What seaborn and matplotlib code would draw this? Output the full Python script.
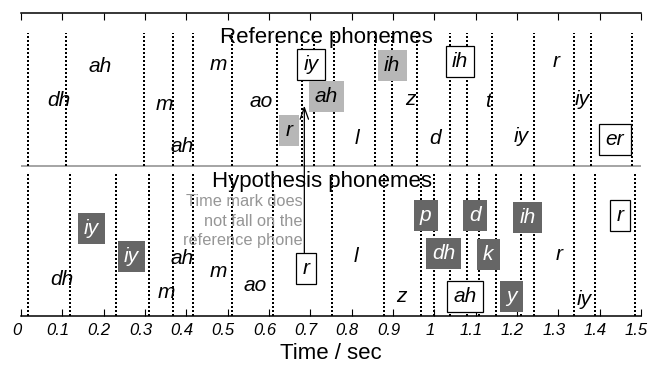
import matplotlib
matplotlib.use("Agg")
import matplotlib.pyplot as plt
import matplotlib.transforms as mtransforms
import pandas as pd
import seaborn as sns

# ---- data -------------------------------------------------------------
ref_bounds = [0.018, 0.109, 0.298, 0.368, 0.417, 0.510, 0.619, 0.679, 0.710,
              0.757, 0.857, 0.898, 0.959, 1.038, 1.078, 1.140, 1.240, 1.339,
              1.378, 1.479]
hyp_bounds = [0.018, 0.119, 0.230, 0.309, 0.368, 0.417, 0.510, 0.610, 0.752,
              0.878, 0.967, 1.000, 1.038, 1.078, 1.107, 1.149, 1.209, 1.240,
              1.339, 1.389, 1.486]

ref_phones = ["dh", "ah", "m", "ah", "m", "ao", "r", "iy", "ah", "l", "ih",
              "z", "d", "ih", "t", "iy", "r", "iy", "er"]
ref_times = [0.092, 0.191, 0.346, 0.391, 0.477, 0.581, 0.648, 0.702, 0.739,
             0.812, 0.898, 0.943, 1.002, 1.062, 1.130, 1.211, 1.294, 1.357,
             1.437]
ref_levels = [215, 249, 211, 169, 251, 214, 185, 251, 219, 177, 250, 216, 177,
              254, 214, 179, 254, 216, 176]
ref_marks = ["", "", "", "", "", "", "shade", "frame", "shade", "", "shade",
             "", "", "frame", "", "", "", "", "frame"]

hyp_phones = ["dh", "iy", "iy", "m", "ah", "m", "ao", "r", "l", "z", "p", "dh",
              "ah", "d", "k", "y", "ih", "r", "iy", "r"]
hyp_times = [0.099, 0.171, 0.267, 0.352, 0.390, 0.477, 0.566, 0.690, 0.810,
             0.921, 0.979, 1.022, 1.074, 1.098, 1.130, 1.186, 1.225, 1.302,
             1.362, 1.449]
hyp_levels = [36, 87, 59, 23, 57, 44, 30, 47, 59, 19, 100, 62, 19, 100, 61,
              19, 98, 61, 16, 100]
hyp_marks = ["", "dark", "dark", "", "", "", "", "frame", "", "", "dark",
             "dark", "frame", "dark", "dark", "dark", "dark", "", "", "frame"]

tick_values = [0, 0.1, 0.2, 0.3, 0.4, 0.5, 0.6, 0.7, 0.8, 0.9, 1.0, 1.1, 1.2,
               1.3, 1.4, 1.5]
tick_labels = ["0", "0.1", "0.2", "0.3", "0.4", "0.5", "0.6", "0.7", "0.8",
               "0.9", "1", "1.1", "1.2", "1.3", "1.4", "1.5"]

note_lines = ["Time mark does", "not fall on the", "reference phone"]

# ---- style --------------------------------------------------------------
sns.set_theme(style="ticks")
plt.rcParams["font.family"] = ["Liberation Sans", "DejaVu Sans"]

fig = plt.figure(figsize=(6.51, 3.65), dpi=100)
ax = fig.add_axes([21 / 651, 49.3 / 365, 620 / 651, 302.7 / 365])
ax.set_xlim(0, 1.5)
ax.set_ylim(0, 302.7)

# boundary marks as long-form data
rows = []
for k, b in enumerate(ref_bounds):
    rows += [dict(t=b, y=150, uid=f"r{k}"), dict(t=b, y=283, uid=f"r{k}")]
for k, b in enumerate(hyp_bounds):
    rows += [dict(t=b, y=0, uid=f"h{k}"), dict(t=b, y=144, uid=f"h{k}")]
bdf = pd.DataFrame(rows)
sns.lineplot(data=bdf, x="t", y="y", units="uid", estimator=None, sort=False,
             color="black", lw=1.45, linestyle=(0, (0.75, 1.35)), ax=ax,
             legend=False, antialiased=False)

# separator
ax.axhline(149.3, color="#959595", lw=1.2, zorder=1)

# titles
ax.text(0.739, 273, "Reference phonemes", ha="center", va="baseline",
        fontsize=16, color="black", zorder=3)
ax.text(0.729, 128.4, "Hypothesis phonemes", ha="center", va="baseline",
        fontsize=16, color="black", zorder=3)

styles = {
    "": dict(color="black", bbox=None),
    "shade": dict(color="black",
                  bbox=dict(boxstyle="square,pad=0.3", fc="#b7b7b7",
                            ec="none")),
    "dark": dict(color="white",
                 bbox=dict(boxstyle="square,pad=0.3", fc="#666666",
                           ec="none")),
    "frame": dict(color="black",
                  bbox=dict(boxstyle="square,pad=0.3", fc="white",
                            ec="black", lw=0.9)),
}

def put(phones, times, levels, marks):
    for s, t, y, m in zip(phones, times, levels, marks):
        st = styles[m]
        ax.text(t, y, s, ha="center", va="center", fontsize=15,
                style="italic", color=st["color"], bbox=st["bbox"], zorder=4)

put(ref_phones, ref_times, ref_levels, ref_marks)
put(hyp_phones, hyp_times, hyp_levels, hyp_marks)

# annotation
for line, y in zip(note_lines, [109.2, 89.7, 70.2]):
    ax.text(0.681, y, line, ha="right", va="baseline", fontsize=11.8,
            color="#969696", zorder=3)
ax.annotate("", xy=(0.6855, 210), xytext=(0.6855, 63),
            arrowprops=dict(arrowstyle="->,head_length=0.7,head_width=0.25",
                            color="black", lw=0.9, shrinkA=0, shrinkB=0,
                            mutation_scale=12), zorder=5)

# axes styling
for side in ["left", "right"]:
    ax.spines[side].set_visible(False)
for side in ["top", "bottom"]:
    ax.spines[side].set_visible(True)
    ax.spines[side].set_linewidth(1.1)
    ax.spines[side].set_color("black")
ax.set_yticks([])
ax.set_xticks(tick_values)
ax.set_xticklabels(tick_labels, fontstyle="italic", fontsize=12)
ax.tick_params(axis="x", top=True, bottom=True, direction="in", length=4.8,
               width=0.8, color="black", pad=5, labelcolor="black")
shift = mtransforms.ScaledTranslation(-0.045, 0, fig.dpi_scale_trans)
for lab in ax.get_xticklabels():
    lab.set_transform(lab.get_transform() + shift)
ax.set_xlabel("Time / sec", fontsize=16, labelpad=3.5, color="black")
ax.set_ylabel("")

fig.savefig("out.png", dpi=100)
